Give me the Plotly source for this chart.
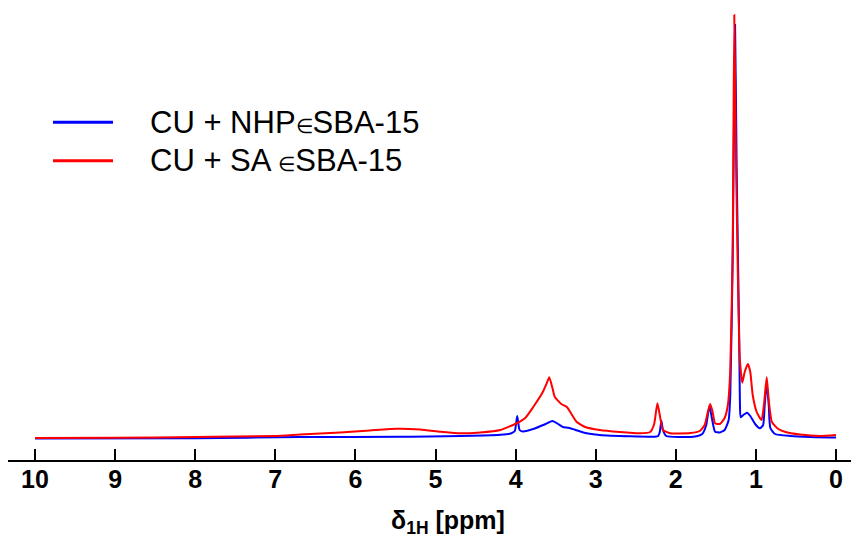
import plotly.graph_objects as go

# Chemical shift (ppm) and intensity (arbitrary units)
ppm_sa = [10.0, 9.0, 8.0, 7.0, 6.69, 6.19, 5.82, 5.48, 5.19, 4.94, 4.73, 4.44, 4.19,
          3.98, 3.88, 3.78, 3.66, 3.61, 3.58, 3.54, 3.51, 3.43, 3.36, 3.31, 3.24, 3.13,
          2.95, 2.70, 2.45, 2.32, 2.27, 2.23, 2.20, 2.16, 2.07, 1.82, 1.70, 1.64, 1.60,
          1.57, 1.54, 1.51, 1.45, 1.39, 1.35, 1.32, 1.29, 1.27, 1.25, 1.22, 1.20, 1.17,
          1.14, 1.10, 1.07, 1.04, 0.99, 0.93, 0.90, 0.865, 0.84, 0.80, 0.72, 0.64, 0.45,
          0.20, 0.0]
int_sa = [0, 0.2, 1, 2, 3.5, 5.5, 7.5, 9.3, 8.5, 6.2, 4.7, 5.5, 8,
          15, 20, 31, 46, 55, 60.7, 50, 41, 34, 31, 25, 16.3, 11,
          8, 6, 4.7, 6, 14, 34.7, 23, 8, 4.7, 5, 7, 13, 26,
          34, 26, 14.7, 14, 20, 33, 68, 188, 423, 288, 138, 78, 55.3,
          66, 74, 66, 43, 26, 18, 33, 60.7, 38, 16, 9, 6.3, 3.5,
          2, 3]

ppm_nhp = [10.0, 8.0, 6.69, 5.44, 4.19, 4.06, 4.01, 3.98, 3.95, 3.91, 3.76, 3.64, 3.54,
           3.47, 3.41, 3.34, 3.25, 3.13, 2.95, 2.57, 2.26, 2.22, 2.20, 2.18, 2.16, 2.12,
           1.95, 1.76, 1.67, 1.62, 1.58, 1.55, 1.51, 1.45, 1.39, 1.34, 1.32, 1.29, 1.26,
           1.24, 1.21, 1.20, 1.19, 1.15, 1.11, 1.07, 1.01, 0.95, 0.91, 0.89, 0.865, 0.84,
           0.82, 0.76, 0.57, 0.32, 0.0]
int_nhp = [-0.5, -0.3, 1, 1.2, 3.3, 4.5, 7, 22, 8, 6.5, 9.5, 13.5, 17,
           14, 11, 10.3, 8, 5, 3, 1.7, 1.3, 2, 6, 17.3, 8, 2,
           1, 1.5, 4, 13, 32.3, 20, 6.3, 5.5, 8, 18, 43, 178, 413,
           268, 108, 38, 20.7, 23.5, 25.3, 22, 14, 9.7, 13, 33, 54.7, 33,
           10, 4, 2, 1, 0.5]

series_names = ["CU + NHP<span style='font-size:20px'>∈</span>SBA-15",
                "CU + SA <span style='font-size:20px'>∈</span>SBA-15"]
series_colors = ["#0000FF", "#FF0000"]
tick_vals = [10, 9, 8, 7, 6, 5, 4, 3, 2, 1, 0]

# the page body adds an 8 px offset, so the figure is 8 px smaller each way
OFF = 8
W, H = 859 - OFF, 544 - OFF
L, R, T, B = 0, 1, 2, 84
pw, ph = W - L - R, H - T - B

def px(x):  # screen pixel -> paper x
    return (x - OFF - L) / pw

def py(y):  # screen pixel -> paper y
    return (H - B - (y - OFF)) / ph

fig = go.Figure()
fig.add_trace(go.Scatter(x=ppm_nhp, y=int_nhp, mode="lines", name="CU + NHP∈SBA-15",
                         line=dict(color=series_colors[0], width=2, shape="spline",
                                   smoothing=0.5), showlegend=False))
fig.add_trace(go.Scatter(x=ppm_sa, y=int_sa, mode="lines", name="CU + SA ∈SBA-15",
                         line=dict(color=series_colors[1], width=2, shape="spline",
                                   smoothing=0.5), showlegend=False))

# legend drawn manually
for i, yy in enumerate([122.3, 160.7]):
    fig.add_shape(type="line", xref="paper", yref="paper",
                  x0=px(53), x1=px(113), y0=py(yy), y1=py(yy),
                  line=dict(color=series_colors[i], width=3))
    fig.add_annotation(xref="paper", yref="paper", x=px(148), y=py(yy),
                       text=series_names[i], showarrow=False, xanchor="left",
                       yanchor="middle",
                       font=dict(family="Liberation Sans, Arial, sans-serif", size=31,
                                 color="black"))

# axis title
fig.add_annotation(xref="paper", yref="paper", x=px(448), y=py(522),
                   text="<b>δ<sub>1H</sub> [ppm]</b>", showarrow=False,
                   xanchor="center", yanchor="middle",
                   font=dict(family="Liberation Sans, Arial, sans-serif", size=25,
                             color="black"))

fig.update_layout(
    width=W, height=H,
    margin=dict(l=L, r=R, t=T, b=B, autoexpand=False),
    paper_bgcolor="white", plot_bgcolor="white",
    font=dict(family="Liberation Sans, Arial, sans-serif", color="black"),
    xaxis=dict(
        range=[(836 - 8) / 80.1, (836 - 858) / 80.1],
        automargin=False,
        tickmode="array", tickvals=tick_vals, ticktext=[f"<b>{v}</b>" for v in tick_vals],
        ticks="inside", ticklen=11, tickwidth=2, tickcolor="black",
        ticklabelstandoff=-4,
        showline=True, linewidth=2, linecolor="black",
        showgrid=False, zeroline=False,
        tickfont=dict(size=25),
    ),
    yaxis=dict(range=[-22, 428], visible=False, showgrid=False, zeroline=False,
               automargin=False),
)

fig.write_html("out.html")
